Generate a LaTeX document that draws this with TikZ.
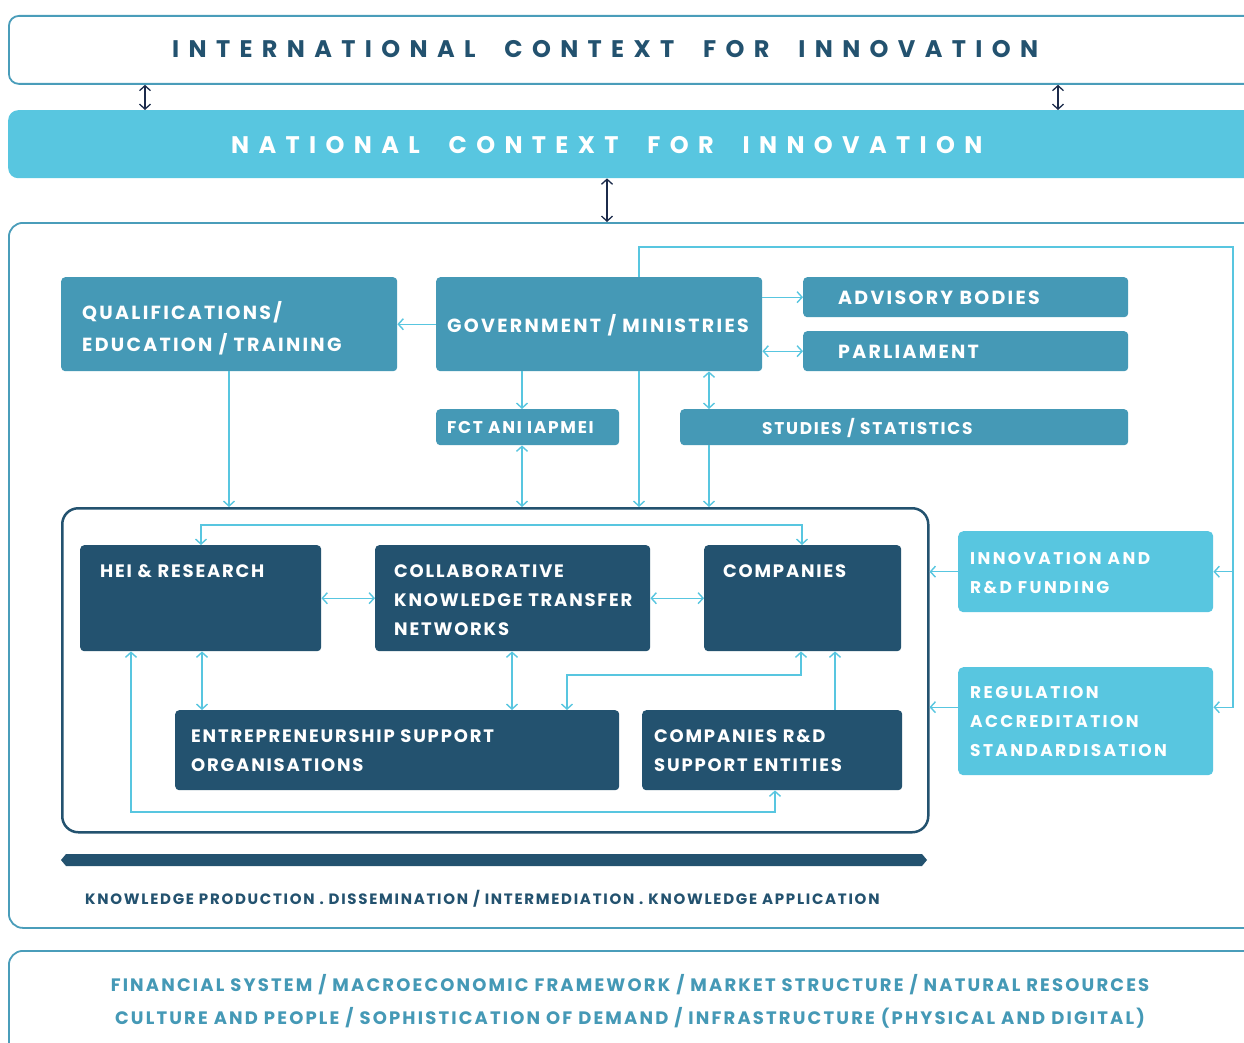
\documentclass[tikz,border=0pt]{standalone}
\usepackage{fontspec}
\setmainfont{Poppins}
\newfontfamily\headfont{Poppins}[LetterSpace=39,WordSpace=2]
\newfontfamily\bigfont{Poppins}[LetterSpace=12]
\newfontfamily\boxfont{Poppins}[LetterSpace=10]
\newfontfamily\cyfont{Poppins}[LetterSpace=14]
\newfontfamily\botfont{Poppins}[LetterSpace=12]
\newfontfamily\smallfont{Poppins}[LetterSpace=11.5]
\usetikzlibrary{arrows.meta}
\definecolor{dk}{HTML}{23526F}
\definecolor{teal}{HTML}{4599B6}
\definecolor{cy}{HTML}{58C6E0}
\definecolor{bd}{HTML}{4A9DBA}
\definecolor{nav}{HTML}{1C2B4B}
\begin{document}
\begin{tikzpicture}[x=1pt,y=-1pt,
  frame/.style={draw=bd, line width=1.8pt, fill=white, rounded corners=10pt, anchor=north west, inner sep=0pt},
  natbox/.style={fill=cy, rounded corners=10pt, anchor=north west, inner sep=0pt},
  tealbox/.style={fill=teal, rounded corners=4pt, anchor=north west, inner sep=0pt},
  darkbox/.style={fill=dk, rounded corners=4pt, anchor=north west, inner sep=0pt},
  cybox/.style={fill=cy, rounded corners=5pt, anchor=north west, inner sep=0pt},
  head/.style={font=\headfont\bfseries\fontsize{24}{28}\selectfont, anchor=west, inner sep=0pt},
  btxt/.style={font=\bigfont\bfseries\fontsize{19}{32}\selectfont, text=white, anchor=west, inner sep=0pt, align=left},
  stxt/.style={btxt, font=\boxfont\bfseries\fontsize{17}{29}\selectfont},
  btxtb/.style={btxt, font=\boxfont\bfseries\fontsize{18}{29}\selectfont},
  ctxt/.style={btxt, font=\cyfont\bfseries\fontsize{17}{29}\selectfont},
  conn/.style={draw=cy, line width=1.4pt},
  navarrow/.style={draw=nav, line width=1.3pt},
  >={Straight Barb[length=5pt,width=11pt]}
]
\useasboundingbox (0,0) rectangle (1244,1043);
\clip (0,0) rectangle (1244,1043);

% outer frames
\node[frame, minimum width=1260, minimum height=68] (intl) at (8,15) {};
\node[head, text=dk] (intlt) at (172,49) {INTERNATIONAL CONTEXT FOR INNOVATION};
\node[natbox, minimum width=1260, minimum height=68] (nat) at (8,110) {};
\node[head, text=white] (natt) at (231,145) {NATIONAL CONTEXT FOR INNOVATION};
\node[frame, rounded corners=14pt, minimum width=1260, minimum height=705] (main) at (8,222) {};
\node[frame, rounded corners=14pt, minimum width=1260, minimum height=130] (bot) at (8,950) {};

\draw[navarrow,<->] (145,0 |- intl.south) -- (145,0 |- nat.north);
\draw[navarrow,<->] (1058,0 |- intl.south) -- (1058,0 |- nat.north);
\draw[navarrow,<->] (607,0 |- nat.south) -- (607,0 |- main.north);

% upper boxes
\node[tealbox, minimum width=336, minimum height=94] (qual) at (61,277) {};
\node[btxt] (qualt) at (82,328) {QUALIFICATIONS/\\EDUCATION / TRAINING};
\node[tealbox, minimum width=326, minimum height=94] (gov) at (436,277) {};
\node[btxt] (govt) at (447,325) {GOVERNMENT / MINISTRIES};
\node[tealbox, minimum width=325, minimum height=40] (adv) at (803,277) {};
\node[btxt] (advt) at (838,298) {ADVISORY BODIES};
\node[tealbox, minimum width=325, minimum height=40] (parl) at (803,331) {};
\node[btxt] (parlt) at (838,352) {PARLIAMENT};
\node[tealbox, minimum width=183, minimum height=36] (fct) at (436,409) {};
\node[stxt] (fctt) at (447,428) {FCT ANI IAPMEI};
\node[tealbox, minimum width=448, minimum height=36] (stud) at (680,409) {};
\node[stxt] (studt) at (762,428) {STUDIES / STATISTICS};

% inner frame
\node[draw=dk, line width=2.5pt, fill=white, rounded corners=16pt, anchor=north west, inner sep=0pt, minimum width=866, minimum height=324] (inner) at (61,507) {};

\node[darkbox, minimum width=241, minimum height=106] (hei) at (80,545) {};
\node[btxtb] (heit) at (100,571) {HEI \& RESEARCH};
\node[darkbox, minimum width=275, minimum height=106] (collab) at (375,545) {};
\node[btxtb] (collabt) at (394,600) {COLLABORATIVE\\KNOWLEDGE TRANSFER\\NETWORKS};
\node[darkbox, minimum width=197, minimum height=106] (comp) at (704,545) {};
\node[btxtb] (compt) at (723,571) {COMPANIES};
\node[darkbox, minimum width=444, minimum height=80] (ent) at (175,710) {};
\node[btxtb] (entt) at (191,750.5) {ENTREPRENEURSHIP SUPPORT\\ORGANISATIONS};
\node[darkbox, minimum width=260, minimum height=80] (crd) at (642,710) {};
\node[btxtb] (crdt) at (654,750.5) {COMPANIES R\&D\\SUPPORT ENTITIES};

% right boxes
\node[cybox, minimum width=255, minimum height=81] (innov) at (958,531) {};
\node[ctxt] (innovt) at (970,573.5) {INNOVATION AND\\R\&D FUNDING};
\node[cybox, minimum width=255, minimum height=108] (reg) at (958,667) {};
\node[ctxt] (regt) at (970,721) {REGULATION\\ACCREDITATION\\STANDARDISATION};
\coordinate (regin) at ([yshift=14pt]reg.east);
\coordinate (regout) at ([yshift=14pt]reg.west);

% connectors upper
\draw[conn,->] (gov.west) -- (qual.east |- gov.west);
\draw[conn,->] (gov.east |- adv.west) -- (adv.west);
\draw[conn,<->] (gov.east |- parl.west) -- (parl.west);
\draw[conn,->] (522,0 |- gov.south) -- (522,0 |- fct.north);
\draw[conn,<->] (709,0 |- gov.south) -- (709,0 |- stud.north);
\draw[conn,<->] (522,0 |- fct.south) -- (522,0 |- inner.north);
\draw[conn,->] (639,0 |- gov.south) -- (639,0 |- inner.north);
\draw[conn,->] (709,0 |- stud.south) -- (709,0 |- inner.north);
\draw[conn,->] (229,0 |- qual.south) -- (229,0 |- inner.north);
\coordinate (tr) at (1233,247);
\draw[conn,->] (639,0 |- gov.north) |- (tr) |- (regin);
\draw[conn,->] (tr |- innov.east) -- (innov.east);
\draw[conn,->] (innov.west) -- (inner.east |- innov.west);
\draw[conn,->] (regout) -- (inner.east |- regout);

% connectors inner
\coordinate (ctop) at (802,525);
\coordinate (cmid) at (567,675);
\coordinate (cbot) at (775,812);
\draw[conn,<->] (hei.east) -- (collab.west);
\draw[conn,<->] (collab.east) -- (comp.west);
\draw[conn,<->] (201,0 |- hei.north) |- (ctop) -- (ctop |- comp.north);
\draw[conn,<->] (202,0 |- hei.south) -- (202,0 |- ent.north);
\draw[conn,<->] (512,0 |- collab.south) -- (512,0 |- ent.north);
\draw[conn,<->] (801,0 |- comp.south) |- (cmid) -- (cmid |- ent.north);
\draw[conn,->] (835,0 |- crd.north) -- (835,0 |- comp.south);
\draw[conn,<->] (131,0 |- hei.south) |- (cbot) -- (cbot |- crd.south);

% bottom bar and texts
\fill[dk] (61,860) -- (66,854) -- (922,854) -- (927,860) -- (922,866) -- (66,866) -- cycle;
\node[font=\smallfont\bfseries\fontsize{15}{16}\selectfont, text=dk, anchor=west, inner sep=0pt] (kt) at (85,899) {KNOWLEDGE PRODUCTION . DISSEMINATION / INTERMEDIATION . KNOWLEDGE APPLICATION};
\node[font=\botfont\bfseries\fontsize{18}{33}\selectfont, text=teal, align=center, inner sep=0pt] (bott) at (630,1001.5) {FINANCIAL SYSTEM / MACROECONOMIC FRAMEWORK / MARKET STRUCTURE / NATURAL RESOURCES\\CULTURE AND PEOPLE / SOPHISTICATION OF DEMAND / INFRASTRUCTURE (PHYSICAL AND DIGITAL)};
\end{tikzpicture}
\end{document}
